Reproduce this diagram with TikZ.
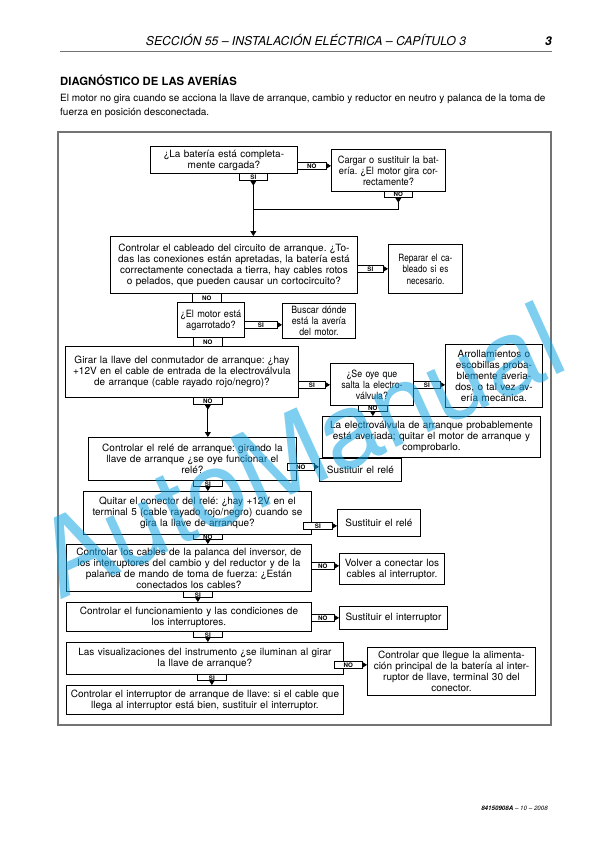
\documentclass[tikz,border=0pt]{standalone}
\usepackage{fontspec}
\setmainfont{TeX Gyre Heros}
\newfontfamily\fsN[FakeStretch=0.92]{TeX Gyre Heros}
\newfontfamily\fsM[FakeStretch=0.88]{TeX Gyre Heros}
\newfontfamily\fsL[FakeStretch=0.82]{TeX Gyre Heros}
\usetikzlibrary{arrows.meta,calc}
\definecolor{wm}{RGB}{20,165,228}
\definecolor{framegray}{gray}{0.45}
\frenchspacing
\tikzset{
 box/.style={draw=black,line width=0.9pt,fill=white,inner sep=0pt,align=center,font=\fontsize{10}{11}\selectfont},
 tabbox/.style={draw=black,line width=0.7pt,fill=white,inner sep=0pt,font=\fontsize{6.2}{6.2}\selectfont\bfseries},
 arr/.style={line width=0.8pt,-{Triangle[width=6pt,length=5pt]}},
 ln/.style={line width=0.8pt},
}
\newcommand\fcbox[7][]{%
 \pgfmathsetmacro\fcw{#5-#3}\pgfmathsetmacro\fch{#6-#4}\pgfmathsetmacro\fct{#5-#3-2}%
 \node[box,#1,anchor=north west,minimum width=\fcw pt,minimum height=\fch pt,text width=\fct pt] (#2) at (#3,#4) {#7};}
\newcommand\fctab[6]{%
 \pgfmathsetmacro\fcw{#4-#2}\pgfmathsetmacro\fch{#5-#3}%
 \node[tabbox,anchor=north west,minimum width=\fcw pt,minimum height=\fch pt] (#1) at (#2,#3) {#6};}
\begin{document}
\begin{tikzpicture}[x=1pt,y=-1pt]
\useasboundingbox (0,0) rectangle (612,864);
% header
\node[anchor=base,font=\fontsize{12.2}{12.2}\selectfont\itshape,inner sep=0] (hd) at (306,46) {SECCIÓN 55 – INSTALACIÓN ELÉCTRICA – CAPÍTULO 3};
\node[anchor=base east,font=\fontsize{12}{12}\selectfont\bfseries\itshape,inner sep=0] (pg) at (552,46) {3};
\draw[framegray,line width=1pt] (60,52) -- (552,52);
\node[anchor=base west,font=\fontsize{11.3}{11.3}\selectfont\bfseries,inner sep=0] (ti) at (60,86) {DIAGNÓSTICO DE LAS AVERÍAS};
\node[anchor=base west,font=\fontsize{10}{10}\selectfont,inner sep=0] (p1) at (60,102) {El motor no gira cuando se acciona la llave de arranque, cambio y reductor en neutro y palanca de la toma de};
\node[anchor=base west,font=\fontsize{10}{10}\selectfont,inner sep=0] (p2) at (60,116) {fuerza en posición desconectada.};
% frame
\draw[framegray,line width=1.1pt] (58,132) rectangle (551,725);
% boxes
\fcbox{b1}{150}{146}{297}{173}{¿La batería está completa-\\mente cargada?}
\fcbox[font=\fsN\fontsize{10}{11}\selectfont]{b2}{331}{149}{445}{191}{Cargar o sustituir la bat-\\ería. ¿El motor gira cor-\\rectamente?}
\fcbox{b3}{110}{236}{357}{293}{Controlar el cableado del circuito de arranque. ¿To-\\das las conexiones están apretadas, la batería está\\correctamente conectada a tierra, hay cables rotos\\o pelados, que pueden causar un cortocircuito?}
\fcbox[font=\fsL\fontsize{10}{11.5}\selectfont]{b4}{388}{244}{462}{293}{Reparar el ca-\\bleado si es\\necesario.}
\fcbox[font=\fsN\fontsize{10}{11}\selectfont]{b5}{177}{302}{244}{337}{¿El motor está\\agarrotado?}
\fcbox[font=\fsM\fontsize{10}{11}\selectfont]{b6}{282}{303}{355}{338}{Buscar dónde\\está la avería\\del motor.}
\fcbox{b7}{65}{346}{298}{397}{Girar la llave del conmutador de arranque: ¿hay\\+12V en el cable de entrada de la electroválvula\\de arranque (cable rayado rojo/negro)?}
\fcbox[font=\fsM\fontsize{10}{11}\selectfont]{b8}{330}{363}{413}{405}{¿Se oye que\\salta la electro-\\válvula?}
\fcbox{b9}{445}{344}{542}{407}{Arrollamientos o\\escobillas proba-\\blemente averia-\\dos, o tal vez av-\\ería mecánica.}
\fcbox{b10}{322}{416}{540}{457}{La electroválvula de arranque probablemente\\está averiada; quitar el motor de arranque y\\comprobarlo.}
\fcbox{b11}{88}{437}{296}{480}{Controlar el relé de arranque: girando la\\llave de arranque ¿se oye funcionar el\\relé?}
\fcbox{b12}{319}{458}{401}{481}{Sustituir el relé}
\fcbox{b13}{83}{491}{311}{534}{Quitar el conector del relé: ¿hay +12V en el\\terminal 5 (cable rayado rojo/negro) cuando se\\gira la llave de arranque?}
\fcbox{b14}{337}{509}{420}{536}{Sustituir el relé}
\fcbox{b15}{66}{544}{311}{591}{Controlar los cables de la palanca del inversor, de\\los interruptores del cambio y del reductor y de la\\palanca de mando de toma de fuerza: ¿Están\\conectados los cables?}
\fcbox{b16}{339}{553}{444}{584}{Volver a conectar los\\cables al interruptor.}
\fcbox{b17}{66}{602}{311}{631}{Controlar el funcionamiento y las condiciones de\\los interruptores.}
\fcbox{b18}{339}{606}{447}{629}{Sustituir el interruptor}
\fcbox{b19}{66}{642}{343}{674}{Las visualizaciones del instrumento ¿se iluminan al girar\\la llave de arranque?}
\fcbox{b20}{367}{647}{535}{695}{Controlar que llegue la alimenta-\\ción principal de la batería al inter-\\ruptor de llave, terminal 30 del\\conector.}
\fcbox{b21}{66}{685}{343}{714}{Controlar el interruptor de arranque de llave: si el cable que\\llega al interruptor está bien, sustituir el interruptor.}
% tabs
\fctab{tA}{239}{173}{267}{180}{SÍ}
\fctab{tB}{297}{162}{326}{169}{NO}
\fctab{tC}{384}{191}{412}{197}{NO}
\fctab{tD}{357}{265}{383}{272}{SÍ}
\fctab{tE}{192}{293}{221}{302}{NO}
\fctab{tF}{244}{321}{277}{328}{SÍ}
\fctab{tG}{193}{337}{222}{346}{NO}
\fctab{tH}{298}{381}{325}{388}{SÍ}
\fctab{tI}{193}{397}{222}{404}{NO}
\fctab{tJ}{413}{381}{440}{388}{SÍ}
\fctab{tK}{358}{405}{387}{411}{NO}
\fctab{tL}{287}{463}{314}{470}{NO}
\fctab{tM}{193}{480}{222}{486}{SÍ}
\fctab{tN}{303}{522}{332}{529}{SÍ}
\fctab{tO}{193}{534}{222}{539}{NO}
\fctab{tP}{311}{562}{334}{569}{NO}
\fctab{tQ}{183}{591}{212}{597}{SÍ}
\fctab{tR}{311}{614}{334}{621}{NO}
\fctab{tS}{193}{631}{222}{637}{SÍ}
\fctab{tT}{334}{661}{362}{668}{NO}
\fctab{tU}{197}{674}{226}{680}{SÍ}
% connectors
\draw[arr] (tA.south) -- ++(0,5);
\draw[arr] (tA.south) -- (tA.south |- b3.north);
\draw[arr] (tB.east) -- (tB.east -| b2.west);
\draw[arr] (tC.south) -- ++(0,5);
\draw[ln] (tC.south) -- ++(0,12) coordinate (j1) -- (j1 -| tA.south);
\draw[arr] (tD.east) -- (tD.east -| b4.west);
\draw[arr] (tF.east) -- (tF.east -| b6.west);
\draw[arr] (tH.east) -- (tH.east -| b8.west);
\draw[arr] (tI.south) -- ++(0,5);
\draw[arr] (tI.south) -- (tI.south |- b11.north);
\draw[arr] (tJ.east) -- (tJ.east -| b9.west);
\draw[arr] (tK.south) -- (tK.south |- b10.north);
\draw[arr] (tL.east) -- (tL.east -| b12.west);
\draw[arr] (tM.south) -- (tM.south |- b13.north);
\draw[arr] (tN.east) -- (tN.east -| b14.west);
\draw[arr] (tO.south) -- (tO.south |- b15.north);
\draw[arr] (tP.east) -- (tP.east -| b16.west);
\draw[arr] (tQ.south) -- (tQ.south |- b17.north);
\draw[arr] (tR.east) -- (tR.east -| b18.west);
\draw[arr] (tS.south) -- (tS.south |- b19.north);
\draw[arr] (tT.east) -- (tT.east -| b20.west);
\draw[arr] (tU.south) -- (tU.south |- b21.north);
% watermark
\node[rotate=24.4,text=wm,opacity=0.55,font=\fontsize{106}{106}\selectfont,inner sep=0] (wmk) at (300,450) {AutoManual};
% footer
\node[anchor=base east,font=\fontsize{6.2}{6.2}\selectfont\itshape,inner sep=0] (ft) at (548,810) {\textbf{84150908A} – 10 – 2008};
\end{tikzpicture}
\end{document}
